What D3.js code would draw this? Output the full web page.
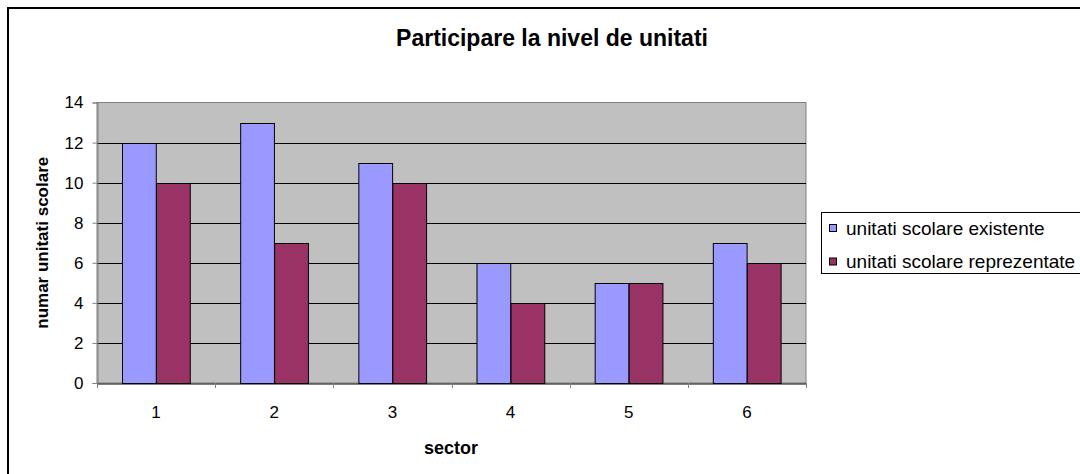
<!DOCTYPE html>
<html>
<head>
<meta charset="utf-8">
<script src="https://cdn.jsdelivr.net/npm/d3@7"></script>
<style>
  body { margin: 0; background: #fff; }
  svg { display: block; font-family: "Liberation Sans", Arial, sans-serif; }
</style>
</head>
<body>
<div id="chart"></div>
<script>
// chart data
const sectors = ['1', '2', '3', '4', '5', '6'];
const existente = [12, 13, 11, 6, 5, 7];
const reprezentate = [10, 7, 10, 4, 5, 6];
const seriesNames = ['unitati scolare existente', 'unitati scolare reprezentate'];
const yTicks = [0, 2, 4, 6, 8, 10, 12, 14];

const colors = ['#9999ff', '#993366'];
const w = 1080, h = 474;
const plot = { left: 97, right: 806, top: 102.5, bottom: 383 };
const font = '"Liberation Sans", Arial, sans-serif';

const svg = d3.select('#chart').append('svg')
  .attr('width', w)
  .attr('height', h);

// outer frame (right and bottom edges fall outside the picture)
svg.append('rect')
  .attr('x', 8).attr('y', 8)
  .attr('width', w + 20).attr('height', h + 20)
  .attr('fill', 'none')
  .attr('stroke', '#000')
  .attr('stroke-width', 2);

// title
svg.append('text')
  .attr('x', 552).attr('y', 46)
  .attr('text-anchor', 'middle')
  .attr('font-size', '23px')
  .attr('font-weight', 'bold')
  .text('Participare la nivel de unitati');

const x0 = d3.scaleBand()
  .domain(sectors)
  .range([plot.left, plot.right]);

const x1 = d3.scaleBand()
  .domain([0, 1])
  .range([0, x0.bandwidth()])
  .paddingInner(0)
  .paddingOuter(0.75);

const y = d3.scaleLinear()
  .domain([0, 14])
  .range([plot.bottom, plot.top]);

// plot background
svg.append('rect')
  .attr('x', plot.left).attr('y', plot.top)
  .attr('width', plot.right - plot.left)
  .attr('height', plot.bottom - plot.top)
  .attr('fill', '#c0c0c0')
  .attr('stroke', '#808080')
  .attr('stroke-width', 1);

// gridlines
svg.append('g')
  .selectAll('line')
  .data(yTicks.filter(d => d > 0 && d < 14))
  .enter().append('line')
  .attr('x1', plot.left).attr('x2', plot.right)
  .attr('y1', d => Math.round(y(d)) + 0.5)
  .attr('y2', d => Math.round(y(d)) + 0.5)
  .attr('stroke', '#000')
  .attr('stroke-width', 1);

// bars
const data = sectors.map((s, i) => ({ sector: s, values: [existente[i], reprezentate[i]] }));

svg.append('g')
  .selectAll('g')
  .data(data)
  .enter().append('g')
  .attr('transform', d => `translate(${x0(d.sector)},0)`)
  .selectAll('rect')
  .data(d => d.values.map((v, k) => ({ k, v })))
  .enter().append('rect')
  .attr('x', d => Math.round(x1(d.k)) + 0.5)
  .attr('y', d => Math.round(y(d.v)) + 0.5)
  .attr('width', x1.bandwidth())
  .attr('height', d => y(0) - Math.round(y(d.v)))
  .attr('fill', d => colors[d.k])
  .attr('stroke', '#000')
  .attr('stroke-width', 1);

// y axis
const yAxis = d3.axisLeft(y).tickValues(yTicks).tickSize(5).tickPadding(9);
const gy = svg.append('g')
  .attr('transform', `translate(${plot.left + 0.5},0)`)
  .call(yAxis);
gy.select('.domain').attr('stroke', '#808080');
gy.selectAll('.tick line').attr('stroke', '#808080');
gy.selectAll('text').attr('font-size', '17px').attr('font-family', font).attr('fill', '#000');

// x axis
const xAxis = d3.axisBottom(x0).tickSize(0).tickPadding(22);
const gx = svg.append('g')
  .attr('transform', `translate(0,${plot.bottom + 0.5})`)
  .call(xAxis);
gx.select('.domain').attr('stroke', '#000');
gx.selectAll('text').attr('font-size', '17px').attr('font-family', font).attr('fill', '#000');

// category boundary ticks
svg.append('g')
  .selectAll('line')
  .data(sectors.concat(['end']))
  .enter().append('line')
  .attr('x1', (d, i) => Math.round(plot.left + i * x0.bandwidth()) + 0.5)
  .attr('x2', (d, i) => Math.round(plot.left + i * x0.bandwidth()) + 0.5)
  .attr('y1', plot.bottom)
  .attr('y2', plot.bottom + 5)
  .attr('stroke', '#808080');

// axis titles
svg.append('text')
  .attr('x', 451)
  .attr('y', 454)
  .attr('text-anchor', 'middle')
  .attr('font-size', '18px')
  .attr('font-weight', 'bold')
  .text('sector');

svg.append('text')
  .attr('transform', `translate(48,${(plot.top + plot.bottom) / 2}) rotate(-90)`)
  .attr('text-anchor', 'middle')
  .attr('font-size', '17px')
  .attr('font-weight', 'bold')
  .text('numar unitati scolare');

// legend
const legend = svg.append('g');
legend.append('rect')
  .attr('x', 821.5).attr('y', 212.5)
  .attr('width', 280).attr('height', 61)
  .attr('fill', '#fff')
  .attr('stroke', '#000');

const items = legend.selectAll('g')
  .data(seriesNames)
  .enter().append('g')
  .attr('transform', (d, i) => `translate(829,${228 + i * 33.5})`);

items.append('rect')
  .attr('x', 0.5).attr('y', -3.5)
  .attr('width', 7).attr('height', 7)
  .attr('fill', (d, i) => colors[i])
  .attr('stroke', '#000');

items.append('text')
  .attr('x', 17)
  .attr('y', 6.5)
  .attr('font-size', '19px')
  .text(d => d);
</script>
</body>
</html>
